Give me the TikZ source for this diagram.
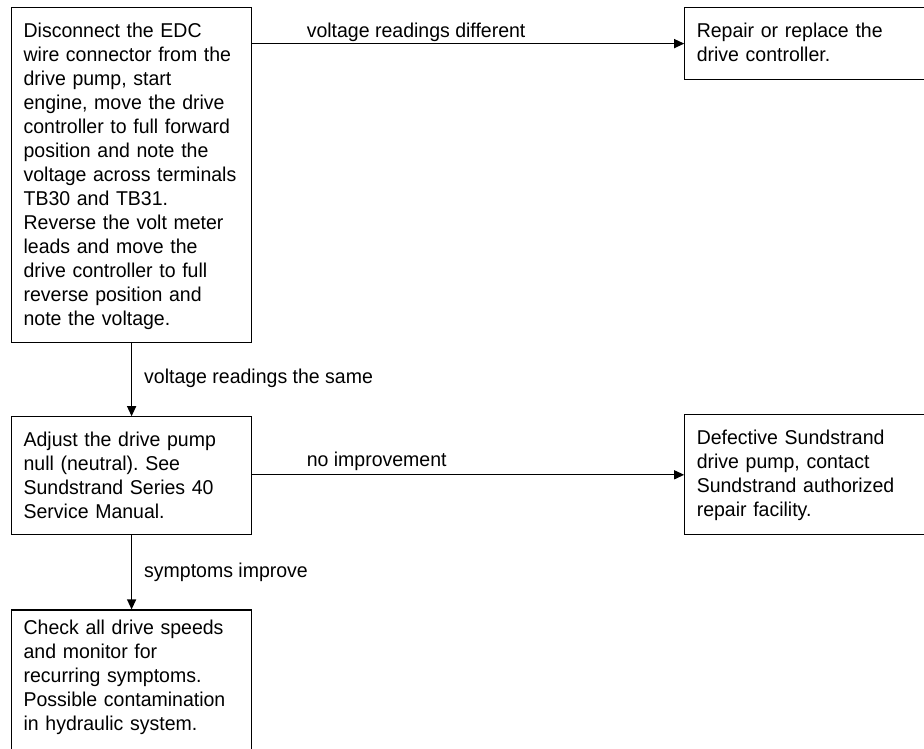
\documentclass[tikz,border=0pt]{standalone}
\usepackage{fontspec}
\setmainfont{Liberation Sans}[FakeStretch=0.975]
\frenchspacing
\usetikzlibrary{arrows.meta,positioning}
\tikzset{
 stepbox/.style={draw, line width=1.2pt, anchor=north west, text width=216pt, inner xsep=12pt, inner ysep=0pt, align=left, text height=30pt, font=\fontsize{20pt}{24pt}\selectfont},
 arrow/.style={-{Triangle[length=10pt,width=9pt]}, line width=1.2pt},
 lbl/.style={anchor=base west, inner sep=0pt, font=\fontsize{20pt}{24pt}\selectfont}
}
\begin{document}
\begin{tikzpicture}[x=1pt,y=1pt]
\useasboundingbox (0,0) rectangle (924,-748);
\clip (0,0) rectangle (924,-748);
\node[stepbox, text depth=305pt] (check) at (11,-7) {Disconnect the EDC\\wire connector from the\\drive pump, start\\engine, move the drive\\controller to full forward\\position and note the\\voltage across terminals\\TB30 and TB31.\\Reverse the volt meter\\leads and move the\\drive controller to full\\reverse position and\\note the voltage.};
\node[stepbox, text depth=42pt, right=432pt of check.north east, anchor=north west] (repair) {Repair or replace the\\drive controller.};
\node[stepbox, text depth=88pt, below=73pt of check] (adjust) {Adjust the drive pump\\null (neutral). See\\Sundstrand Series 40\\Service Manual.};
\node[stepbox, text depth=90pt, right=432pt of adjust.north east, anchor=north west, yshift=2pt] (defect) {Defective Sundstrand\\drive pump, contact\\Sundstrand authorized\\repair facility.};
\node[stepbox, text height=24pt, text depth=170pt, below=74pt of adjust] (monitor) {Check all drive speeds\\and monitor for\\recurring symptoms.\\Possible contamination\\in hydraulic system.};
\draw[arrow] (check.east |- repair.west) -- node[lbl, pos=0.125, yshift=6pt] (lbldiff) {voltage readings different} (repair.west);
\draw[arrow] (check.south) -- node[lbl, pos=0.55, xshift=12pt] (lblsame) {voltage readings the same} (adjust.north);
\draw[arrow] (adjust.east |- defect.west) -- node[lbl, pos=0.125, yshift=8pt] (lblnone) {no improvement} (defect.west);
\draw[arrow] (adjust.south) -- node[lbl, pos=0.57, xshift=12pt] (lblbetter) {symptoms improve} (monitor.north);
\end{tikzpicture}
\end{document}
